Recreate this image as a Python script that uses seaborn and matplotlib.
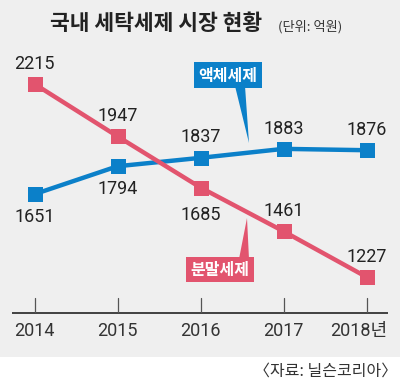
import matplotlib
matplotlib.use("Agg")
import matplotlib.pyplot as plt
import seaborn as sns
import pandas as pd
from matplotlib.patches import Rectangle, Polygon

sns.set_theme(style="white")
plt.rcParams['font.family'] = ['Noto Sans CJK KR', 'DejaVu Sans']

years = [2014, 2015, 2016, 2017, 2018]
year_labels = ["2014", "2015", "2016", "2017", "2018년"]
liquid = [1651, 1794, 1837, 1883, 1876]
powder = [2215, 1947, 1685, 1461, 1227]
liquid_name = "액체세제"
powder_name = "분말세제"
title = "국내 세탁세제 시장 현황"
unit = "(단위: 억원)"
source = "〈자료: 닐슨코리아〉"

BLUE = "#0b80c9"
PINK = "#e2546e"
BG = "#efefef"
NUM_FONT = ['Roboto', 'Noto Sans CJK KR', 'DejaVu Sans']

df = pd.DataFrame({
    "year": years * 2,
    "value": liquid + powder,
    "series": [liquid_name] * 5 + [powder_name] * 5,
})

fig = plt.figure(figsize=(4.0, 3.83), dpi=100)
fig.patch.set_facecolor("white")

# decoration layer in pixel coordinates
deco = fig.add_axes([0, 0, 1, 1], zorder=0)
deco.set_xlim(0, 400)
deco.set_ylim(383, 0)
deco.axis("off")
deco.add_patch(Rectangle((0, 0), 400, 357, facecolor=BG, edgecolor="none"))
deco.plot([12, 388], [312.5, 312.5], color="#333333", lw=1.3, solid_capstyle="butt")

# data layer
ax = fig.add_axes([0, 0, 1, 1], zorder=1)
ax.patch.set_alpha(0)
sns.lineplot(data=df, x="year", y="value", hue="series",
             palette={liquid_name: BLUE, powder_name: PINK},
             marker="s", markersize=10.8, markeredgewidth=0,
             linewidth=3.2, legend=False, ax=ax)
ax.set_xlim(2014 - 34.5 / 83, 2014 + 365.5 / 83)
ax.set_ylim(684.4, 2645)
ax.axis("off")

# tick marks and labels
for i, yr in enumerate(years):
    x = 34.5 + 83 * i
    deco.plot([x, x], [298, 312], color="#555555", lw=0.9)
    if i == 4:
        deco.text(387, 331, year_labels[i], ha="right", va="center",
                  fontsize=13, color="#333333", family=NUM_FONT)
    else:
        deco.text(x, 331, year_labels[i], ha="center", va="center",
                  fontsize=13, color="#333333", family=NUM_FONT)

# value labels
liq_off = [23, 23, -21, -20, -20]
pow_off = [-20, -20, 27, -20, -20]
for yr, v, o in zip(years, liquid, liq_off):
    ax.annotate(str(v), (yr, v), xytext=(0, -o), textcoords="offset pixels",
                ha="center", va="center", fontsize=13, color="#222222", family=NUM_FONT)
for yr, v, o in zip(years, powder, pow_off):
    ax.annotate(str(v), (yr, v), xytext=(0, -o), textcoords="offset pixels",
                ha="center", va="center", fontsize=13, color="#222222", family=NUM_FONT)

# callout boxes
deco.add_patch(Polygon([(235, 86), (245, 86), (249, 143)], closed=True,
                       facecolor=BLUE, edgecolor="none", zorder=3))
deco.add_patch(Rectangle((194, 62), 68, 26, facecolor=BLUE, edgecolor="none", zorder=3))
deco.text(228, 75.5, liquid_name, ha="center", va="center", fontsize=11.5,
          fontweight="bold", color="white", zorder=4)

deco.add_patch(Polygon([(239, 259), (249, 259), (247, 218)], closed=True,
                       facecolor=PINK, edgecolor="none", zorder=3))
deco.add_patch(Rectangle((186, 257), 68, 25, facecolor=PINK, edgecolor="none", zorder=3))
deco.text(220, 270, powder_name, ha="center", va="center", fontsize=11.5,
          fontweight="bold", color="white", zorder=4)

# titles
deco.text(156, 24, title, ha="center", va="center", fontsize=15.5,
          fontweight="bold", color="#222222")
deco.text(310, 27, unit, ha="center", va="center", fontsize=9.5, color="#333333")
deco.text(397, 371, source, ha="right", va="center", fontsize=11.5, color="#333333")

fig.savefig("out.png", dpi=100)
